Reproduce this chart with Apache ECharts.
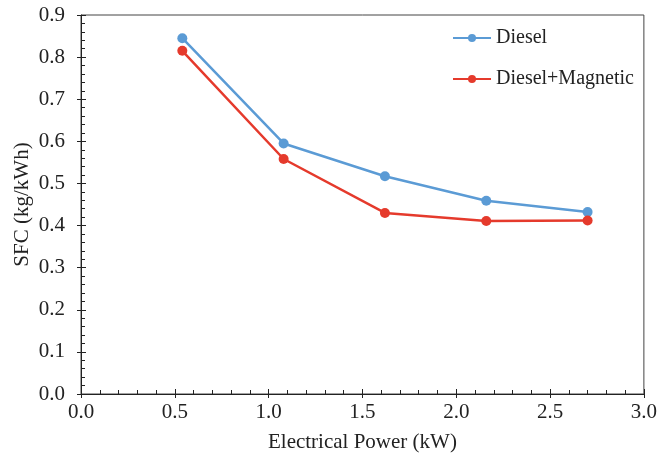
<!DOCTYPE html>
<html>
<head>
<meta charset="utf-8">
<script src="https://cdn.jsdelivr.net/npm/echarts@6/dist/echarts.min.js"></script>
<style>
  html, body { margin: 0; padding: 0; background: #fff; }
  #chart { width: 660px; height: 459px; }
</style>
</head>
<body>
<div id="chart"></div>
<script>
// Specific fuel consumption vs. electrical load
const powerKW = [0.54, 1.08, 1.62, 2.16, 2.70];
const sfcDiesel = [0.845, 0.595, 0.517, 0.459, 0.432];
const sfcDieselMagnetic = [0.815, 0.558, 0.430, 0.411, 0.412];
const seriesNames = ['Diesel', 'Diesel+Magnetic'];

const FONT = 'Liberation Serif';
const FONT_SIZE = 21;
const AXIS_COLOR = '#222';
const TEXT_COLOR = '#222';

function pairs(xs, ys) {
  return xs.map((x, i) => [x, ys[i]]);
}

const chart = echarts.init(document.getElementById('chart'));

const baseX = {
  type: 'value', min: 0, max: 3, interval: 0.5, position: 'bottom'
};
const baseY = {
  type: 'value', min: 0, max: 0.9, interval: 0.1, position: 'left'
};

chart.setOption({
  animation: false,
  backgroundColor: '#fff',
  textStyle: { fontFamily: FONT },
  grid: {
    left: 81, right: 15, top: 15, bottom: 65,
    show: true, borderColor: '#444', borderWidth: 1, backgroundColor: 'transparent'
  },
  legend: {
    data: seriesNames,
    orient: 'vertical',
    left: 447, top: 23,
    itemWidth: 38, itemHeight: 10, itemGap: 21,
    textStyle: { fontFamily: FONT, fontSize: 20, color: TEXT_COLOR }
  },
  xAxis: [
    Object.assign({}, baseX, {
      name: 'Electrical Power (kW)',
      nameLocation: 'middle', nameGap: 38,
      nameTextStyle: { fontFamily: FONT, fontSize: FONT_SIZE, color: TEXT_COLOR },
      axisLine: { show: true, lineStyle: { color: AXIS_COLOR, width: 1 } },
      axisTick: { show: true, inside: true, length: 5, lineStyle: { color: AXIS_COLOR } },
      minorTick: { show: true, splitNumber: 5, length: 4, lineStyle: { color: AXIS_COLOR } },
      axisLabel: {
        formatter: v => v.toFixed(1), margin: 8,
        fontFamily: FONT, fontSize: FONT_SIZE, color: TEXT_COLOR
      },
      splitLine: { show: false }
    }),
    Object.assign({}, baseX, {
      axisLine: { show: false },
      axisTick: { show: true, inside: false, length: 4, lineStyle: { color: AXIS_COLOR } },
      axisLabel: { show: false },
      splitLine: { show: false }
    })
  ],
  yAxis: [
    Object.assign({}, baseY, {
      name: 'SFC (kg/kWh)',
      nameLocation: 'middle', nameGap: 48,
      nameMoveOverlap: false,
      nameTextStyle: { fontFamily: FONT, fontSize: FONT_SIZE, color: TEXT_COLOR },
      axisLine: { show: true, lineStyle: { color: AXIS_COLOR, width: 1 } },
      axisTick: { show: true, inside: true, length: 5, lineStyle: { color: AXIS_COLOR } },
      minorTick: { show: true, splitNumber: 5, length: 4, lineStyle: { color: AXIS_COLOR } },
      axisLabel: {
        formatter: v => v.toFixed(1), margin: 16,
        fontFamily: FONT, fontSize: FONT_SIZE, color: TEXT_COLOR
      },
      splitLine: { show: false }
    }),
    Object.assign({}, baseY, {
      axisLine: { show: false },
      axisTick: { show: true, inside: false, length: 4, lineStyle: { color: AXIS_COLOR } },
      axisLabel: { show: false },
      splitLine: { show: false }
    })
  ],
  series: [
    {
      name: seriesNames[0],
      type: 'line',
      data: pairs(powerKW, sfcDiesel),
      symbol: 'circle', symbolSize: 10,
      lineStyle: { color: '#5b9bd5', width: 2.5 },
      itemStyle: { color: '#5b9bd5' }
    },
    {
      name: seriesNames[1],
      type: 'line',
      data: pairs(powerKW, sfcDieselMagnetic),
      symbol: 'circle', symbolSize: 10,
      lineStyle: { color: '#e53a2c', width: 2.5 },
      itemStyle: { color: '#e53a2c' }
    }
  ]
});
</script>
</body>
</html>
